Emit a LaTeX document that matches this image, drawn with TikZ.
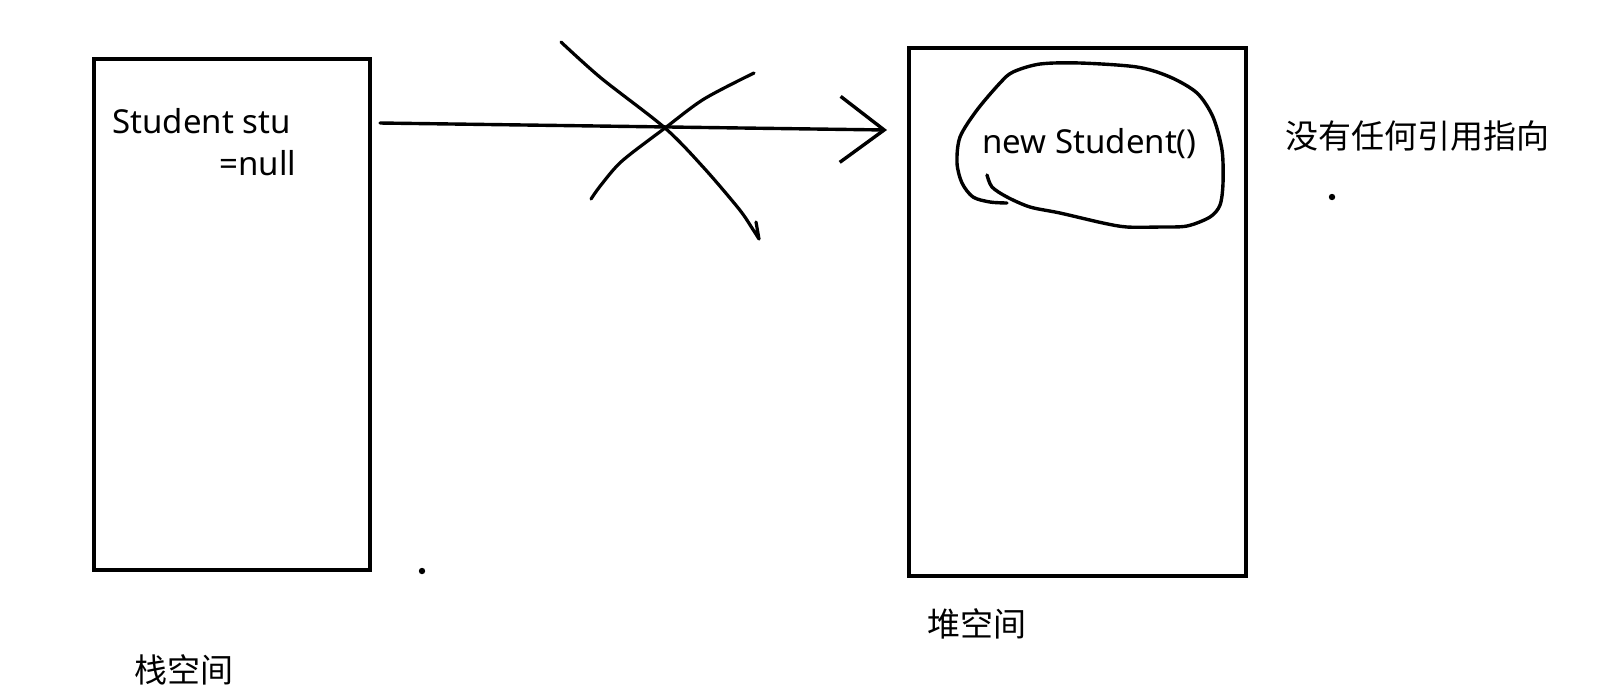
\documentclass[tikz,border=0pt]{standalone}
\usepackage{fontspec}
\setmainfont{Noto Sans}
\newfontfamily\cjk{Noto Sans CJK SC}
\usetikzlibrary{arrows.meta}

\begin{document}
\begin{tikzpicture}[line cap=round, line join=round, x=0.5pt, y=-0.5pt,
        membox/.style={draw, line width=2pt, line cap=butt, line join=miter, inner sep=0pt},
        txt/.style={inner sep=0pt, font=\fontsize{16.5pt}{20pt}\selectfont},
        cjktxt/.style={inner sep=0pt, font=\fontsize{16.5pt}{20pt}\selectfont\cjk},
        pen/.style={line width=1.7pt}]

            \useasboundingbox (0,0) rectangle (1599,693);

            \node[membox, minimum width=138pt, minimum height=255.5pt] (stack) at (232,314.5) {};
            \node[membox, minimum width=168.5pt, minimum height=264pt] (heap) at (1077.5,312) {};

            \node[txt, anchor=base west] (decl) at (112,133) {Student stu};
            \node[txt, anchor=base west] (nullval) at (219,175) {=null};
            \node[txt, anchor=base west] (obj) at (982,153) {new Student()};

            \node[cjktxt] (stacklbl) at (184,670) {栈空间};
            \node[cjktxt] (heaplbl) at (977,624) {堆空间};
            \node[cjktxt] (noref) at (1417,136) {没有任何引用指向};

            \coordinate (reffrom) at (380,123);
            \coordinate (refto) at (887,130);
            \draw[pen, -{Straight Barb[length=22pt, width=33pt]}] (reffrom) -- (refto);

            % crossed out
            \draw[pen, line width=1.6pt] plot[smooth] coordinates {(561,42) (601,78) (665,128) (704,168) (739,209) (752,228) (759,239)} -- (756,222);
            \draw[pen, line width=1.6pt] plot[smooth] coordinates {(754,73) (704,99) (665,128) (622,161) (601,185) (591,199)};

            % ring round the object
            \draw[pen] plot[smooth] coordinates {(987,175) (992,187) (1007,197) (1030,207) (1060,213) (1103,223) (1127,227) (1160,227) (1187,226) (1210,217) (1220,205) (1223,183) (1222,150) (1213,117) (1197,93) (1170,77) (1137,67) (1080,63) (1040,64) (1013,72) (1000,83) (977,110) (960,137) (957,163) (962,183) (973,197) (990,202) (1007,203)};

            \fill (422,571) circle (1.6pt);
            \fill (1332,197) circle (1.6pt);

        \end{tikzpicture}
\end{document}
